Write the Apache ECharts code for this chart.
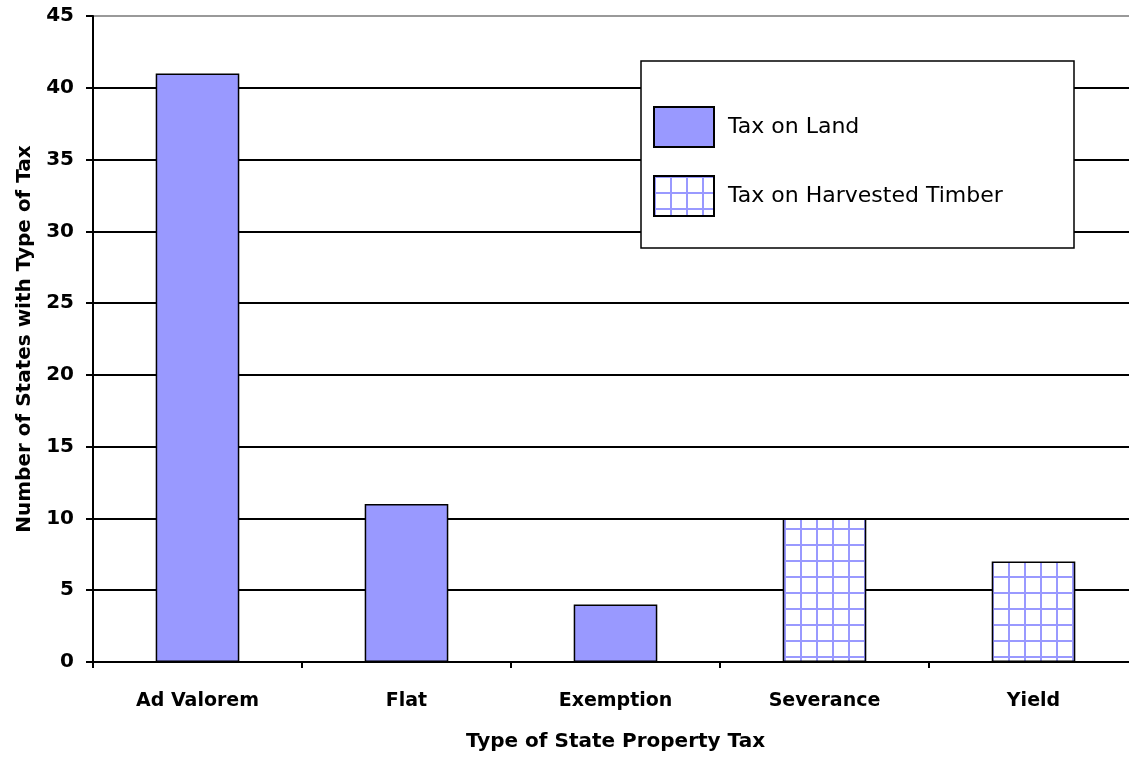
<!DOCTYPE html>
<html>
<head>
<meta charset="utf-8">
<script src="https://cdn.jsdelivr.net/npm/echarts@6/dist/echarts.min.js"></script>
<style>
  html, body { margin: 0; padding: 0; background: #fff; }
  #main { width: 1129px; height: 757px; }
</style>
</head>
<body>
<div id="main"></div>
<script>
// chart data
const categories = ["Ad Valorem", "Flat", "Exemption", "Severance", "Yield"];
const landValues = [41, 11, 4, null, null];
const timberValues = [null, null, null, 10, 7];
const seriesNames = ["Tax on Land", "Tax on Harvested Timber"];

// grid pattern for harvested timber
function gridPattern() {
  const c = document.createElement("canvas");
  c.width = 16;
  c.height = 16;
  const ctx = c.getContext("2d");
  ctx.fillStyle = "#fff";
  ctx.fillRect(0, 0, 16, 16);
  ctx.fillStyle = "#9999ff";
  ctx.fillRect(0, 0, 16, 2);
  ctx.fillRect(0, 0, 2, 16);
  return c;
}

const labelFont = "'DejaVu Sans', sans-serif";

const myChart = echarts.init(document.getElementById("main"));
const option = {
  backgroundColor: "#fff",
  animation: false,
  grid: {
    left: 93,
    width: 1045,
    top: 16,
    bottom: 95,
    containLabel: false,
    outerBoundsMode: "none",
  },
  graphic: [
    {
      type: "rect",
      z: 10,
      shape: { x: 641, y: 61, width: 433, height: 187 },
      style: { fill: "#fff", stroke: "#000", lineWidth: 1.5 },
    },
  ],
  legend: {
    orient: "vertical",
    left: 653,
    top: 106,
    padding: 0,
    icon: "rect",
    itemWidth: 60,
    itemHeight: 40,
    itemGap: 27,
    z: 20,
    data: seriesNames,
    textStyle: {
      fontFamily: labelFont,
      fontSize: 22,
      color: "#000",
      padding: [14, 0, 0, 9],
    },
  },
  xAxis: {
    type: "category",
    data: categories,
    name: "Type of State Property Tax",
    nameLocation: "middle",
    nameGap: 70,
    nameTextStyle: {
      fontFamily: labelFont,
      fontWeight: "bold",
      fontSize: 20,
      color: "#000",
    },
    axisLine: { lineStyle: { color: "#000", width: 2 } },
    axisTick: { show: true, length: 6, lineStyle: { color: "#000", width: 2 } },
    axisLabel: {
      margin: 30,
      fontFamily: labelFont,
      fontWeight: "bold",
      fontSize: 19,
      color: "#000",
    },
    splitLine: { show: false },
  },
  yAxis: {
    type: "value",
    min: 0,
    max: 45,
    interval: 5,
    name: "Number of States with Type of Tax",
    nameLocation: "middle",
    nameGap: 58,
    nameTextStyle: {
      fontFamily: labelFont,
      fontWeight: "bold",
      fontSize: 20,
      color: "#000",
    },
    axisLine: { show: true, lineStyle: { color: "#000", width: 2 } },
    axisTick: { show: true, length: 7, lineStyle: { color: "#000", width: 2 } },
    axisLabel: {
      margin: 19,
      fontFamily: labelFont,
      fontWeight: "bold",
      fontSize: 20,
      color: "#000",
    },
    splitLine: {
      show: true,
      lineStyle: {
        color: ["#000", "#000", "#000", "#000", "#000", "#000", "#000", "#000", "#000", "#999"],
        width: 2,
      },
    },
  },
  series: [
    {
      name: seriesNames[0],
      type: "bar",
      barWidth: "40%",
      barGap: "-100%",
      itemStyle: {
        color: "#9999ff",
        borderColor: "#000",
        borderWidth: 1.5,
      },
      data: landValues,
    },
    {
      name: seriesNames[1],
      type: "bar",
      barWidth: "40%",
      barGap: "-100%",
      itemStyle: {
        color: { image: gridPattern(), repeat: "repeat" },
        borderColor: "#000",
        borderWidth: 1.5,
      },
      data: timberValues,
    },
  ],
};
myChart.setOption(option);
</script>
</body>
</html>
